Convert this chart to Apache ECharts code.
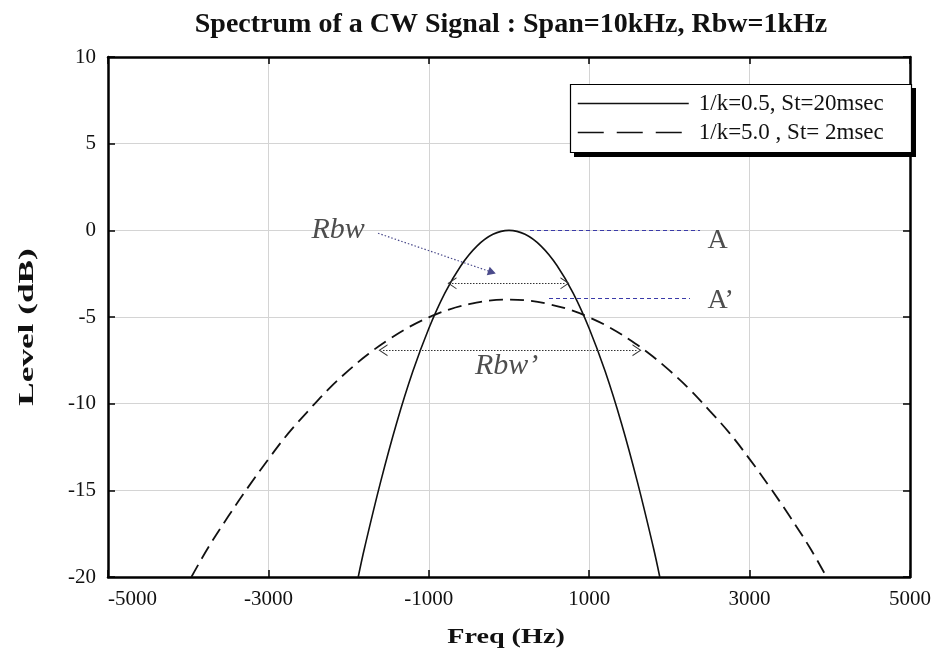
<!DOCTYPE html>
<html><head><meta charset="utf-8">
<script src="https://cdn.jsdelivr.net/npm/echarts@6/dist/echarts.min.js"></script>
<style>html,body{margin:0;padding:0;background:#fff}#c{width:934px;height:657px}</style>
</head><body><div id="c"></div>
<script>
// Data
const titleText = 'Spectrum of a CW Signal : Span=10kHz, Rbw=1kHz';
const xAxisName = 'Freq (Hz)';
const yAxisName = 'Level (dB)';
const xTicks = [-5000, -3000, -1000, 1000, 3000, 5000];
const yTicks = [-20, -15, -10, -5, 0, 5, 10];
const seriesNames = ['1/k=0.5, St=20msec', '1/k=5.0 , St= 2msec'];
// solid curve (1/k=0.5)
const solidFreq = [-1880,-1800,-1600,-1400,-1200,-1000,-800,-600,-400,-200,0,200,400,600,800,1000,1200,1400,1600,1800,1880];
const solidLevel = [-20,-18.3,-14.5,-11.1,-8.15,-5.66,-3.62,-2.04,-0.91,-0.23,0,-0.23,-0.91,-2.04,-3.62,-5.66,-8.15,-11.1,-14.5,-18.3,-20];
// dashed curve (1/k=5.0)
const dashFreq = [-3960,-3750,-3500,-3250,-3000,-2750,-2500,-2250,-2000,-1750,-1500,-1250,-1000,-750,-500,-250,0,250,500,750,1000,1250,1500,1750,2000,2250,2500,2750,3000,3250,3500,3750,3960];
const dashLevel = [-20,-18.3,-16.5,-14.8,-13.2,-11.7,-10.4,-9.16,-8.08,-7.12,-6.3,-5.59,-5.02,-4.57,-4.26,-4.06,-4,-4.06,-4.26,-4.57,-5.02,-5.59,-6.3,-7.12,-8.08,-9.16,-10.4,-11.7,-13.2,-14.8,-16.5,-18.3,-20];
// annotations (data coordinates)
const annotTexts = [
  {text:'Rbw', x:-2130, y:0, italic:true},
  {text:'A', x:2600, y:-0.6, italic:false},
  {text:'A\u2019', x:2640, y:-4.05, italic:false},
  {text:'Rbw\u2019', x:-30, y:-7.85, italic:true}
];
const rbwPointer = [[-1633,-0.17],[-212,-2.42]];
const rbwSpan = [[-711,-3.06],[698,-3.06]];
const rbwPrimeSpan = [[-1571,-6.92],[1596,-6.92]];
const lineA = [[262,0],[2382,0]];
const lineAPrime = [[499,-3.92],[2257,-3.92]];

const serif = 'Liberation Serif';
const chevron = 'path://M0,10 L5,0 L10,10 L9,10 L5,2 L1,10 Z';
const zip = (a,b)=>a.map((v,i)=>[v,b[i]]);

const chart = echarts.init(document.getElementById('c'), null, {renderer:'canvas'});
const axisCommon = {
  axisLine:{show:true, onZero:false, lineStyle:{color:'#000', width:2.5}},
  axisTick:{show:true, inside:true, length:7, lineStyle:{color:'#000', width:1.5}},
};
const tickFmt = v => String(v);
chart.setOption({
  animation:false,
  backgroundColor:'#fff',
  title:{text:titleText, left:506, top:6, textAlign:'center',
    textStyle:{fontFamily:serif, fontSize:28, fontWeight:'bold', color:'#111'}},
  legend:{
    data:[
      {name:seriesNames[0], itemStyle:{opacity:0}, lineStyle:{type:'solid', width:1.5, color:'#111'}},
      {name:seriesNames[1], itemStyle:{opacity:0}, lineStyle:{type:[26,13], width:1.5, color:'#111'}}
    ],
    orient:'vertical', left:570, top:84, z:20,
    itemWidth:111, itemHeight:14, itemGap:6,
    padding:[8,10,8,7],
    textStyle:{fontFamily:serif, fontSize:23, lineHeight:22, color:'#111', padding:[0,0,0,5]}
  },
  grid:{left:108, right:24, top:57, bottom:80, show:false},
  xAxis:[
    Object.assign({type:'value', min:xTicks[0], max:xTicks[xTicks.length-1], interval:2000, position:'bottom',
      axisLabel:{fontFamily:serif, fontSize:21, color:'#111', margin:12, formatter:tickFmt, alignMinLabel:'left', alignMaxLabel:'center'},
      splitLine:{show:true, lineStyle:{color:'#d4d4d4', width:1}}}, axisCommon),
    Object.assign({type:'value', min:xTicks[0], max:xTicks[xTicks.length-1], interval:2000, position:'top',
      axisLabel:{show:false}, splitLine:{show:false}}, axisCommon)
  ],
  yAxis:[
    Object.assign({type:'value', min:yTicks[0], max:yTicks[yTicks.length-1], interval:5, position:'left',
      axisLabel:{fontFamily:serif, fontSize:21, color:'#111', margin:12, formatter:tickFmt},
      splitLine:{show:true, lineStyle:{color:'#d4d4d4', width:1}}}, axisCommon),
    Object.assign({type:'value', min:yTicks[0], max:yTicks[yTicks.length-1], interval:5, position:'right',
      axisLabel:{show:false}, splitLine:{show:false}}, axisCommon)
  ],
  graphic:[
    {type:'rect', z:15, shape:{x:574, y:88, width:342, height:69}, style:{fill:'#000'}},
    {type:'rect', z:16, shape:{x:570.5, y:84.5, width:341, height:68}, style:{fill:'#fff', stroke:'#000', lineWidth:1.2}},
    {type:'text', x:506, y:637, scaleX:1.28, style:{text:xAxisName, font:'bold 22px "Liberation Serif"', fill:'#111', align:'center', verticalAlign:'middle'}},
    {type:'text', x:27, y:327, rotation:Math.PI/2, scaleX:1.6, style:{text:yAxisName, font:'bold 22px "Liberation Serif"', fill:'#111', align:'center', verticalAlign:'middle'}}
  ],
  series:[
    {name:seriesNames[0], type:'line', data:zip(solidFreq, solidLevel), showSymbol:false, symbol:'none',
     smooth:0.4, lineStyle:{color:'#111', width:1.6}, itemStyle:{color:'#111'}, z:3,
     markLine:{silent:true, symbol:'none', animation:false, label:{show:false},
       data:[
         [{coord:rbwPointer[0], symbol:'none', lineStyle:{color:'#4a4a8a', type:[1.5,2], width:1.2}},
          {coord:rbwPointer[1], symbol:'triangle', symbolSize:[9,8], itemStyle:{color:'#2a2ab0'}}],
         [{coord:rbwSpan[0], symbol:chevron, symbolSize:[12,9], lineStyle:{color:'#333', type:[1.5,1.5], width:1.2}, itemStyle:{color:'#333'}},
          {coord:rbwSpan[1], symbol:chevron, symbolSize:[12,9]}],
         [{coord:rbwPrimeSpan[0], symbol:chevron, symbolSize:[12,9], lineStyle:{color:'#333', type:[1.5,1.5], width:1.2}, itemStyle:{color:'#333'}},
          {coord:rbwPrimeSpan[1], symbol:chevron, symbolSize:[12,9]}],
         [{coord:lineA[0], lineStyle:{color:'#3a3aa8', type:[4,3], width:1}}, {coord:lineA[1]}],
         [{coord:lineAPrime[0], lineStyle:{color:'#3a3aa8', type:[4,3], width:1}}, {coord:lineAPrime[1]}]
       ]}},
    {name:seriesNames[1], type:'line', data:zip(dashFreq, dashLevel), showSymbol:false, symbol:'none',
     smooth:0.4, lineStyle:{color:'#111', width:1.8, type:[14,7]}, itemStyle:{color:'#111'}, z:3},
    {name:'annot', type:'scatter', symbolSize:0, silent:true,
     data:annotTexts.map(a=>({value:[a.x,a.y],
       label:{show:true, position:'inside', formatter:a.text, fontFamily:serif, fontSize:a.italic?30:28,
         fontStyle:a.italic?'italic':'normal', color:'#222'}}))}
  ]
});
</script></body></html>
